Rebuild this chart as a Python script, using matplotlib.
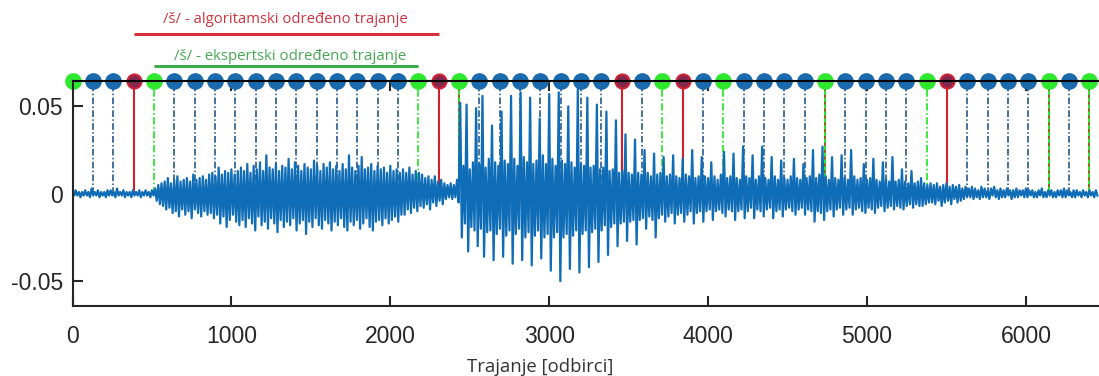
import numpy as np
import matplotlib.pyplot as plt

# frame boundaries in samples (hop of 128)
FRAMES = [0, 128, 256, 384, 512, 640, 768, 896, 1024, 1152, 1280, 1408, 1536,
          1664, 1792, 1920, 2048, 2176, 2304, 2432, 2560, 2688, 2816, 2944,
          3072, 3200, 3328, 3456, 3584, 3712, 3840, 3968, 4096, 4224, 4352,
          4480, 4608, 4736, 4864, 4992, 5120, 5248, 5376, 5504, 5632, 5760,
          5888, 6016, 6144, 6272, 6400]
GREEN_FRAMES = [0, 4, 17, 29, 32, 42]      # expert boundaries
MIXED_FRAMES = [19, 37, 48, 50]            # expert boundary, red dashes over green stem
RED_FRAMES = [3, 18, 27, 30, 43]           # algorithm boundaries
ALG_SPAN = [3, 18]
EXP_SPAN = [4, 17]

# waveform, x1e-3: local max / min in every 20-sample slot
SLOT = 20
SIG_UPPER = [
    1, 2, 1, 1, 2, 1, 3, 1, 2, 1,
    1, 2, 2, 1, 3, 1, 2, 1, 1, 2,
    1, 2, 1, 2, 1, 2,
    3, 5, 6,
    7, 9, 6, 8, 10, 7, 8, 9, 7, 11, 8, 9, 10, 8, 11,
    12, 10, 15, 11, 13, 12, 14, 11, 13,
    15, 13, 17, 12, 16, 14, 18, 13, 22, 15, 14, 17, 13, 16, 15, 20,
    14, 18, 16, 13, 17, 15, 14, 19, 16, 13, 17, 15, 18, 14, 16, 13,
    17, 14, 22, 15, 13, 16, 21, 14, 15, 17, 13, 16, 14, 15, 12, 16, 13, 14, 12,
    14, 12, 15, 11, 13, 12,
    11, 9, 10, 8, 10, 7, 8, 6,
    5, 6, 5,
    # vowel
    8, 52, 16, 51, 14, 18, 49, 17, 56, 15,
    20, 39, 18, 16, 47, 19, 17, 56, 20, 16,
    58, 21, 18, 55, 17, 19, 43, 22, 17, 57,
    20, 16, 58, 19, 17, 50, 18, 15, 60, 17,
    16, 55, 15, 16, 51, 14, 15, 47, 13, 14,
    42, 12, 13, 34, 12, 11, 31, 12,
    11, 25, 12, 10, 23, 11, 12, 21, 10, 11, 22, 10, 9, 20, 11, 10, 25, 9, 10,
    21, 10, 9, 18, 10, 8, 11, 24, 9, 10,
    23, 9, 8, 27, 10, 9, 22, 8, 10, 27,
    9, 8, 21, 10, 8, 19, 9, 8, 10, 20,
    9, 8, 17, 9, 10, 25, 9, 11, 27, 10,
    8, 21, 9, 8,
    22, 9, 8, 25, 10, 8, 9, 17, 8, 9,
    20, 8, 7, 18, 8, 7, 21, 7, 8, 14,
    7, 6, 13, 6, 7, 9, 6, 5,
    6, 5, 6, 4, 5, 6, 4, 5, 4, 5, 3, 4,
    # tail
    3, 4, 3, 2, 4, 3, 2, 3, 4, 2, 3, 2, 3, 2, 2, 3, 2, 2, 3, 2,
    2, 1, 2, 3, 1, 2, 2, 1, 2, 2, 3, 2, 1, 2, 2, 1, 2, 1, 2, 1, 2,
]
SIG_LOWER = [
    -1, -1, -2, -1, -1, -2, -1, -1, -2, -1,
    -2, -1, -1, -2, -1, -1, -2, -1, -2, -1,
    -1, -2, -1, -1, -2, -1,
    -4, -6, -7,
    -9, -8, -11, -10, -13, -9, -12, -10, -14, -9, -11, -13, -10, -12, -11,
    -14, -12, -17, -13, -19, -15, -12, -16, -18,
    -15, -19, -14, -17, -21, -13, -18, -16, -20, -14, -17, -22, -15, -19, -16, -18,
    -14, -21, -17, -15, -23, -16, -19, -14, -18, -20, -15, -17, -21, -16, -18, -14,
    -19, -21, -16, -18, -15, -20, -17, -14, -19, -21, -16, -15, -18, -14, -17, -15, -13, -16, -12,
    -12, -9, -11, -8, -10, -7,
    -8, -6, -9, -5, -7, -4, -6, -3,
    -2, -3, -2,
    # vowel
    -5, -25, -17, -33, -19, -21, -30, -20, -36, -22,
    -21, -38, -23, -20, -36, -24, -21, -40, -23, -20,
    -38, -25, -22, -41, -24, -21, -37, -25, -23, -44,
    -25, -22, -50, -25, -23, -43, -24, -21, -45, -23,
    -21, -42, -22, -20, -39, -21, -18, -35, -19, -17,
    -30, -17, -16, -27, -16, -15, -29, -15,
    -14, -20, -13, -15, -25, -14, -12, -16, -13, -11, -17, -12, -11, -16, -12, -10, -17, -11, -10,
    -16, -10, -9, -15, -10, -9, -11, -13, -9, -10,
    -15, -10, -9, -14, -10, -8, -14, -9, -10, -13,
    -9, -8, -14, -10, -9, -13, -9, -8, -10, -12,
    -9, -8, -12, -9, -10, -16, -10, -11, -15, -10,
    -9, -13, -9, -8,
    -12, -9, -8, -12, -9, -8, -10, -11, -8, -9,
    -11, -8, -7, -10, -8, -7, -9, -7, -8, -9,
    -7, -6, -8, -6, -7, -7, -6, -5,
    -5, -6, -4, -7, -5, -4, -6, -3, -5, -4, -3, -2,
    # tail
    -2, -3, -2, -3, -2, -2, -3, -1, -2, -3, -2, -2, -1, -3, -2, -2, -1, -2, -2, -1,
    -2, -2, -1, -2, -2, -1, -2, -2, -1, -2, -2, -1, -2, -2, -1, -2, -1, -2, -1, -2, -1,
]

X_TICKS = [0, 1000, 2000, 3000, 4000, 5000, 6000]
Y_TICKS = [-0.05, 0, 0.05]
Y_TICK_LABELS = ["-0.05", "0", "0.05"]

BLUE = "#1a6aad"
STEM_BLUE = "#25598a"
GREEN = "#2ee82e"
RED = "#d0202e"
INK = "#262626"

plt.rcParams["font.family"] = ["Liberation Sans", "DejaVu Sans"]

fig = plt.figure(figsize=(10.99, 3.76), dpi=100)
ax = fig.add_axes([72.5 / 1099, 1 - 306 / 376, 1 - 72.5 / 1099, (306 - 81) / 376])

ytop = 0.0645
ax.set_xlim(0, 6460)
ax.set_ylim(-0.0642, ytop)

frames = np.array(FRAMES)
special = set(GREEN_FRAMES + MIXED_FRAMES + RED_FRAMES)
blue_idx = [i for i in range(len(FRAMES)) if i not in special]

dashdot = (0, (4, 1.4, 0.9, 1.4))
ax.vlines(frames[blue_idx], 0, ytop, colors=STEM_BLUE, lw=1.2, linestyles=[dashdot], zorder=1)
ax.vlines(frames[GREEN_FRAMES], 0, ytop, colors=GREEN, lw=1.3, linestyles=[dashdot], zorder=1)
ax.vlines(frames[MIXED_FRAMES], 0, ytop, colors=GREEN, lw=1.5, zorder=1)
ax.vlines(frames[MIXED_FRAMES], 0, ytop, colors="#b8332a", lw=1.1,
          linestyles=[(0, (2, 2.5))], zorder=1.1)
ax.vlines(frames[RED_FRAMES], 0, ytop, colors=RED, lw=1.5, zorder=1)

# waveform: max and min of each slot joined in time order
n = min(len(SIG_UPPER), len(SIG_LOWER))
slot_x = np.arange(n) * SLOT
wx = np.column_stack([slot_x, slot_x + SLOT / 2]).ravel()
wy = np.column_stack([SIG_UPPER[:n], SIG_LOWER[:n]]).ravel() * 1e-3
ax.plot(wx, wy, color="#0f6cb6", lw=1.6, zorder=2)

ms = 11
ax.plot(frames[blue_idx], [ytop] * len(blue_idx), "o", ms=ms, color=BLUE,
        mec=BLUE, clip_on=False, zorder=2.3)
gm = GREEN_FRAMES + MIXED_FRAMES
ax.plot(frames[gm], [ytop] * len(gm), "o", ms=ms, color=GREEN,
        mec=GREEN, clip_on=False, zorder=2.3)
ax.plot(frames[RED_FRAMES], [ytop] * len(RED_FRAMES), "o", ms=ms - 1,
        mfc="#80284e", mec="#cc2236", mew=1.6, clip_on=False, zorder=2.3)

for s in ["left", "bottom", "top"]:
    ax.spines[s].set_color(INK)
    ax.spines[s].set_linewidth(1.5)
ax.spines["right"].set_visible(False)
ax.spines["top"].set_color("black")

ax.set_xticks(X_TICKS)
ax.set_yticks(Y_TICKS)
ax.set_yticklabels(Y_TICK_LABELS)
ax.tick_params(direction="in", length=7, width=1.5, color=INK, labelcolor=INK,
               labelsize=16.5, top=True, right=False)
ax.tick_params(axis="x", pad=14)
ax.tick_params(axis="y", pad=7)

# annotation bars above the plot
trans = ax.get_xaxis_transform()
ax.plot([FRAMES[ALG_SPAN[0]], FRAMES[ALG_SPAN[1]]], [1.209, 1.209], color="#d6303a",
        lw=2.2, transform=trans, clip_on=False, solid_capstyle="butt")
ax.plot([FRAMES[EXP_SPAN[0]], FRAMES[EXP_SPAN[1]]], [1.067, 1.067], color="#3aaa4a",
        lw=2.2, transform=trans, clip_on=False, solid_capstyle="butt")
fig.text(285 / 1099, 1 - 19.5 / 376, "/š/ - algoritamski određeno trajanje",
         color="#d0343f", fontsize=10.7, family="Open Sans", ha="center", va="center")
fig.text(290 / 1099, 1 - 56 / 376, "/š/ - ekspertski određeno trajanje",
         color="#45a852", fontsize=10.8, family="Open Sans", ha="center", va="center")

fig.text(540.5 / 1099, 1 - 366.5 / 376, "Trajanje [odbirci]", color="#333333",
         fontsize=13.3, family="Open Sans", ha="center", va="center")

fig.savefig("out.png", dpi=100)
